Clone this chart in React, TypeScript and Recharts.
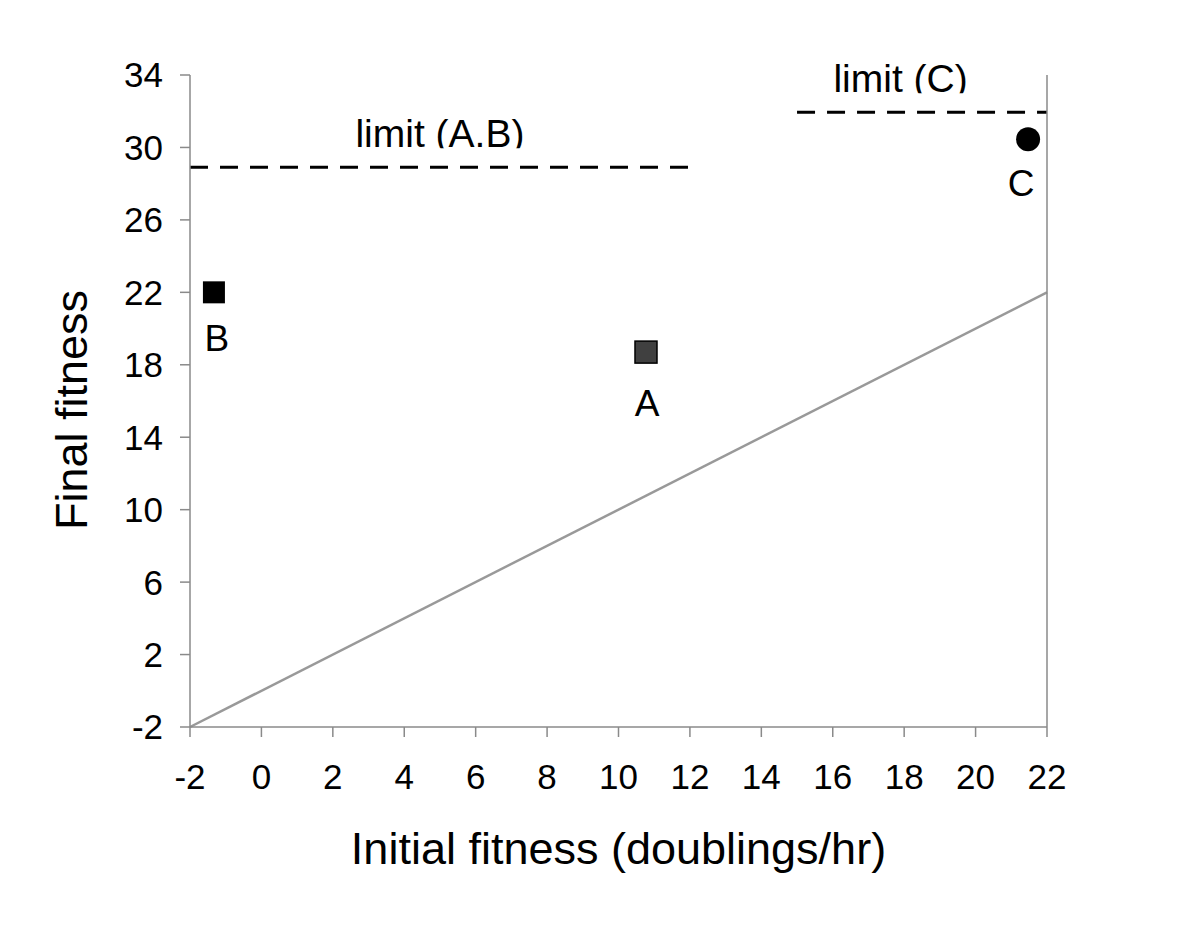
import React from 'react';
import {
  ComposedChart,
  XAxis,
  YAxis,
  Scatter,
  ReferenceLine,
} from 'recharts';

// ---- data ----
const xTicks = [-2, 0, 2, 4, 6, 8, 10, 12, 14, 16, 18, 20, 22];
const yTicks = [-2, 2, 6, 10, 14, 18, 22, 26, 30, 34];

const pointNames = ['A', 'B', 'C'];
const initialFitness = [10.77, -1.33, 21.47];
const finalFitness = [18.7, 22.0, 30.45];

const limitLabels = ['limit (A.B)', 'limit (C)'];
const limitLevels = [28.9, 31.95];
const limitStarts = [-2, 15];
const limitEnds = [12, 22];
const limitLabelCenters = [5, 17.9];

const diagonal = [-2, 22];

const xTitle = 'Initial fitness (doublings/hr)';
const yTitle = 'Final fitness';

// ---- build tables ----
const points = pointNames.map((name, i) => ({
  name,
  x: initialFitness[i],
  y: finalFitness[i],
}));
const limitTextData = limitLabels.map((text, i) => ({
  text,
  x: limitLabelCenters[i],
  y: limitLevels[i],
}));

const FONT = '"Liberation Sans", Arial, Helvetica, sans-serif';
const AXIS_GREY = '#8a8a8a';

// label placement relative to the marker (styling, not data)
const labelOffset: Record<string, { dx: number; dy: number }> = {
  A: { dx: 1, dy: 64 },
  B: { dx: 3, dy: 59 },
  C: { dx: -7, dy: 57 },
};

const PointShape = (props: any) => {
  const { cx, cy, payload } = props;
  if (cx == null || cy == null) return null;
  const name = payload.name as string;
  const off = labelOffset[name] || { dx: 0, dy: 60 };
  let mark;
  if (name === 'C') {
    mark = <circle cx={cx} cy={cy} r={12} fill="#000" />;
  } else if (name === 'A') {
    mark = (
      <rect x={cx - 11} y={cy - 11} width={22} height={22} fill="#404040" stroke="#000" strokeWidth={1.5} />
    );
  } else {
    mark = <rect x={cx - 11} y={cy - 11} width={22} height={22} fill="#000" />;
  }
  return (
    <g>
      {mark}
      <text
        x={cx + off.dx}
        y={cy + off.dy}
        textAnchor="middle"
        fontSize={37}
        fontFamily={FONT}
        fill="#000"
      >
        {name}
      </text>
    </g>
  );
};

const LimitTextShape = (props: any) => {
  const { cx, cy, payload, index } = props;
  if (cx == null || cy == null) return null;
  const id = `limclip-${index}-${Math.round(cx)}`;
  const baseline = cy - 20;
  return (
    <g>
      <defs>
        <clipPath id={id}>
          <rect x={cx - 200} y={baseline - 60} width={400} height={61} />
        </clipPath>
      </defs>
      <text
        x={cx}
        y={baseline}
        textAnchor="middle"
        fontSize={39}
        fontFamily={FONT}
        fill="#000"
        clipPath={`url(#${id})`}
      >
        {payload.text}
      </text>
    </g>
  );
};

const tickStyle = { fontSize: 35, fontFamily: FONT, fill: '#000' };

export default function App() {
  return (
    <div style={{ position: 'absolute', left: 0, top: 0, width: 1200, height: 927, background: '#fff', fontFamily: FONT }}>
      <ComposedChart
        width={1200}
        height={927}
        data={points}
        margin={{ top: 75, right: 0, bottom: 0, left: 0 }}
      >
        <XAxis
          type="number"
          dataKey="x"
          domain={[-2, 22]}
          ticks={xTicks}
          height={200}
          stroke={AXIS_GREY}
          strokeWidth={1.5}
          tickSize={10}
          tickMargin={27}
          tick={tickStyle}
          interval={0}
          label={{
            content: (p: any) => {
              const vb = p.viewBox || {};
              return (
                <text
                  x={vb.x + vb.width / 2}
                  y={vb.y + 137}
                  textAnchor="middle"
                  fontSize={45}
                  fontFamily={FONT}
                  fill="#000"
                >
                  {xTitle}
                </text>
              );
            },
          }}
        />
        <YAxis
          yAxisId="left"
          type="number"
          dataKey="y"
          domain={[-2, 34]}
          ticks={yTicks}
          width={190}
          stroke={AXIS_GREY}
          strokeWidth={1.5}
          tickSize={10}
          tickMargin={17}
          tick={tickStyle}
          interval={0}
          label={{
            content: (p: any) => {
              const vb = p.viewBox || {};
              const x = 87;
              const y = vb.y + vb.height / 2 + 9;
              return (
                <text
                  x={x}
                  y={y}
                  transform={`rotate(-90, ${x}, ${y})`}
                  textAnchor="middle"
                  fontSize={45}
                  fontFamily={FONT}
                  fill="#000"
                >
                  {yTitle}
                </text>
              );
            },
          }}
        />
        <YAxis
          yAxisId="right"
          orientation="right"
          type="number"
          domain={[-2, 34]}
          ticks={yTicks}
          width={153}
          stroke={AXIS_GREY}
          strokeWidth={1.5}
          tickSize={10}
          tickMargin={16}
          tick={tickStyle}
          interval={0}
        />
        <ReferenceLine
          yAxisId="left"
          segment={[
            { x: diagonal[0], y: diagonal[0] },
            { x: diagonal[1], y: diagonal[1] },
          ]}
          stroke="#999999"
          strokeWidth={2.5}
        />
        {limitLevels.map((lv, i) => (
          <ReferenceLine
            key={`lim-${i}`}
            yAxisId="left"
            segment={[
              { x: limitStarts[i], y: lv },
              { x: limitEnds[i], y: lv },
            ]}
            stroke="#000"
            strokeWidth={3}
            strokeDasharray="18 12"
          />
        ))}
        <Scatter
          yAxisId="left"
          data={limitTextData}
          dataKey="y"
          shape={LimitTextShape}
          isAnimationActive={false}
        />
        <Scatter
          yAxisId="left"
          data={points}
          dataKey="y"
          shape={PointShape}
          isAnimationActive={false}
        />
      </ComposedChart>
    </div>
  );
}
